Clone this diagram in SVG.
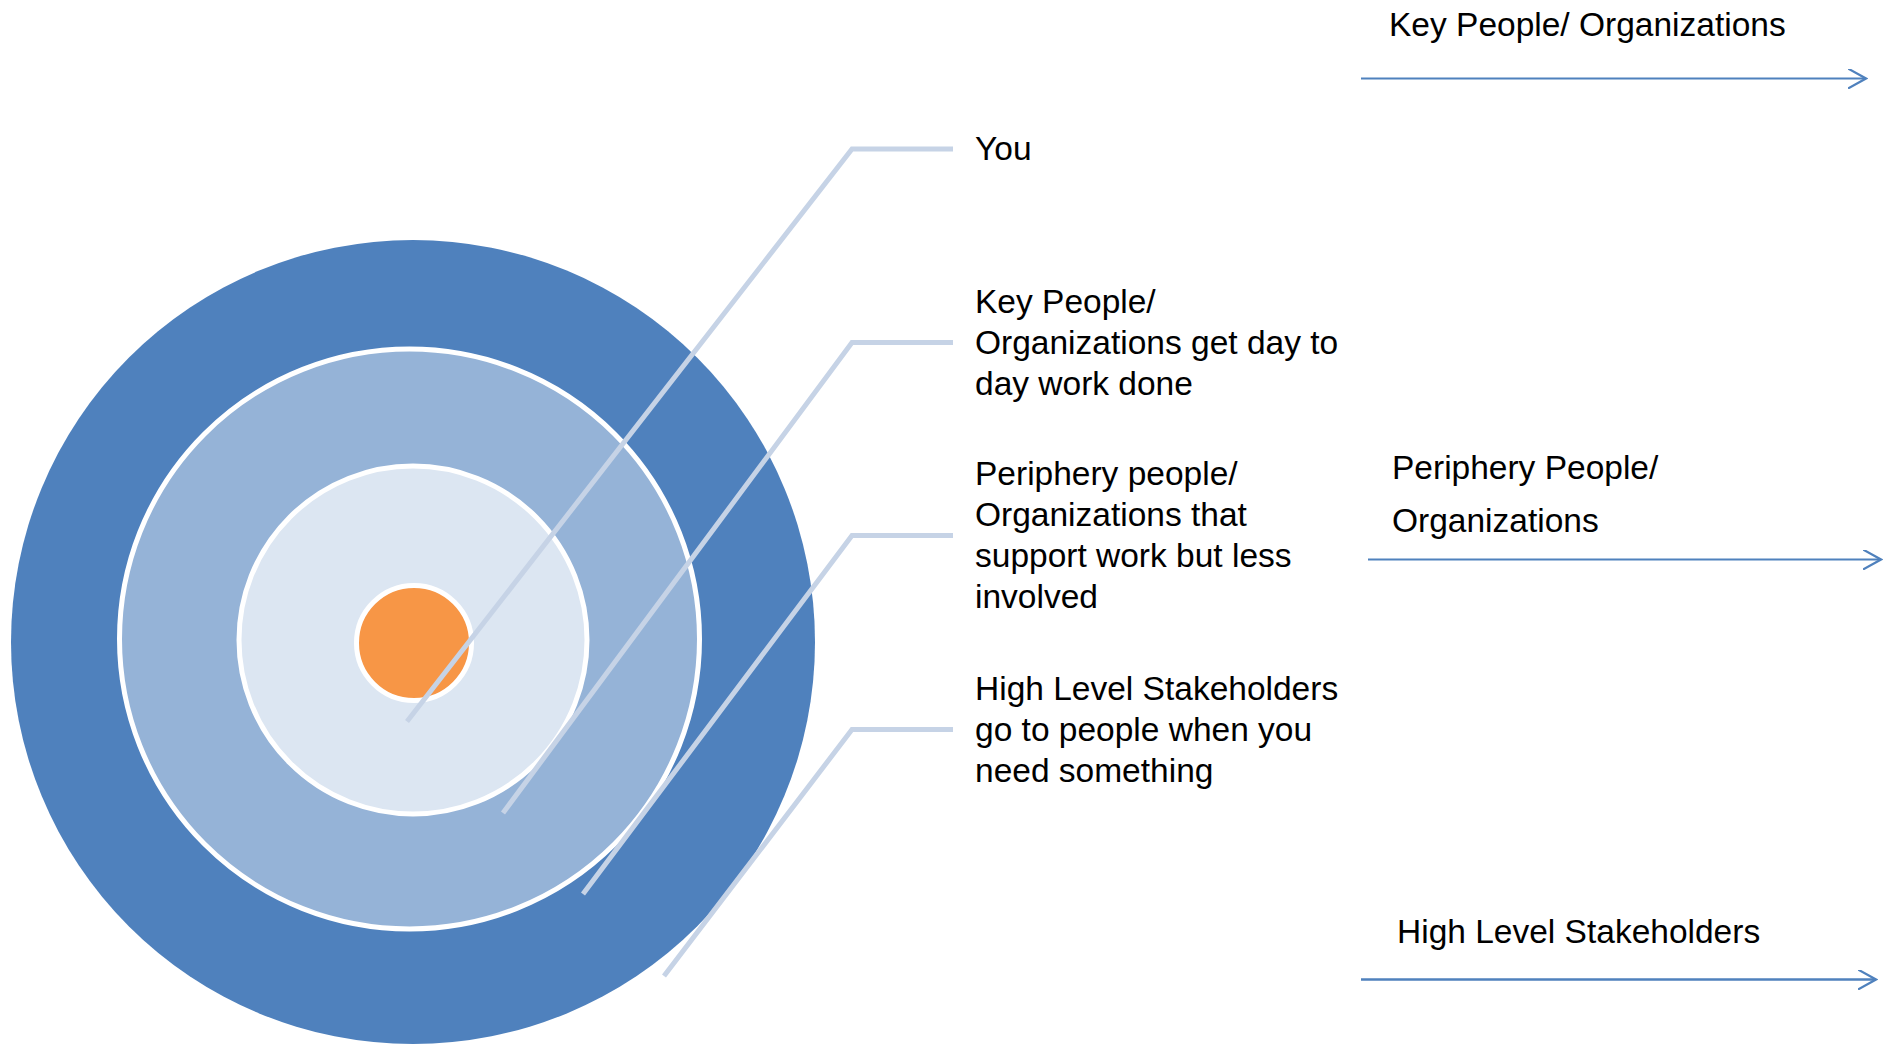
<svg xmlns="http://www.w3.org/2000/svg" width="1891" height="1044" viewBox="0 0 1891 1044">
<style>
.t{font-family:"Liberation Sans",Arial,sans-serif;font-size:33.5px;fill:#000}
.ring{stroke:#fff;stroke-width:5}
.lead{fill:none;stroke:#c6d3e6;stroke-width:5;stroke-linejoin:miter}
.arr{fill:none;stroke:#4f81bd;stroke-width:2.2}
</style>
<defs>
<marker id="ah" viewBox="0 0 20 20" refX="18" refY="10" markerWidth="20" markerHeight="20" markerUnits="userSpaceOnUse" orient="auto">
<path d="M0,0 L18,10 L0,20" fill="none" stroke="#4f81bd" stroke-width="2.2"/>
</marker>
</defs>
<rect width="1891" height="1044" fill="#fff"/>
<g id="ring-high-level">
<circle cx="413" cy="642" r="402" fill="#4f81bd"/>
</g>
<g id="ring-periphery">
<circle cx="409.5" cy="639" r="290" fill="#95b3d7" class="ring"/>
</g>
<g id="ring-key">
<circle cx="413" cy="640" r="174" fill="#dce6f2" class="ring"/>
</g>
<g id="ring-you">
<circle cx="414" cy="643" r="57.5" fill="#f79646" class="ring"/>
</g>
<g id="connectors">
<polyline class="lead" points="407,721.5 852,149 953,149"/>
<polyline class="lead" points="503,813 852,342.5 953,342.5"/>
<polyline class="lead" points="583,894 852,535.5 953,535.5"/>
<polyline class="lead" points="664,976 852,729.5 953,729.5"/>
<line class="arr" x1="1361" y1="78.5" x2="1866" y2="78.5" marker-end="url(#ah)"/>
<line class="arr" x1="1368" y1="559.5" x2="1881" y2="559.5" marker-end="url(#ah)"/>
<line class="arr" x1="1361" y1="979.5" x2="1876" y2="979.5" marker-end="url(#ah)" style="stroke-width:2.6"/>
</g>
<g id="label-you">
<text class="t" x="975" y="160">You</text>
</g>
<g id="label-key">
<text class="t" x="975" y="312.5">Key People/</text>
<text class="t" x="975" y="353.5">Organizations get day to</text>
<text class="t" x="975" y="394.5">day work done</text>
</g>
<g id="label-periphery">
<text class="t" x="975" y="485">Periphery people/</text>
<text class="t" x="975" y="526">Organizations that</text>
<text class="t" x="975" y="567">support work but less</text>
<text class="t" x="975" y="608">involved</text>
</g>
<g id="label-high">
<text class="t" x="975" y="699.5">High Level Stakeholders</text>
<text class="t" x="975" y="740.5">go to people when you</text>
<text class="t" x="975" y="781.5">need something</text>
</g>
<g id="axis-key">
<text class="t" x="1389" y="36">Key People/ Organizations</text>
</g>
<g id="axis-periphery">
<text class="t" x="1392" y="479">Periphery People/</text>
<text class="t" x="1392" y="532">Organizations</text>
</g>
<g id="axis-high">
<text class="t" x="1397" y="943">High Level Stakeholders</text>
</g>
</svg>
